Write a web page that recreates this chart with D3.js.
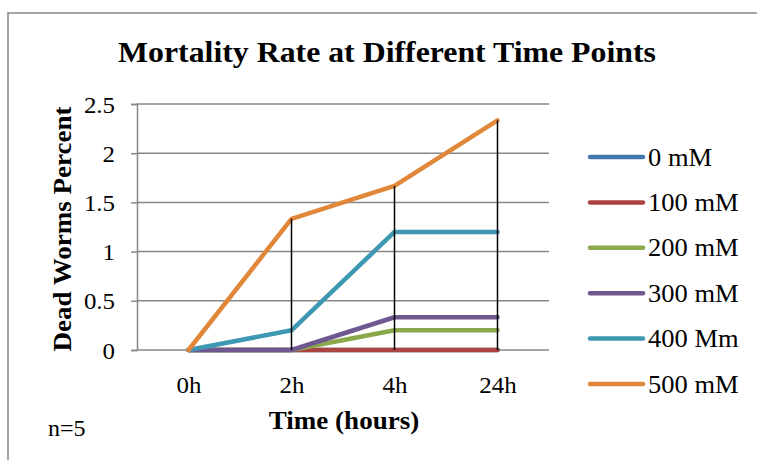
<!DOCTYPE html>
<html>
<head>
<meta charset="utf-8">
<script src="https://cdn.jsdelivr.net/npm/d3@7"></script>
<style>
  html, body { margin: 0; padding: 0; background: #fff; }
  svg { display: block; font-family: "Liberation Serif", "Times New Roman", serif; }
</style>
</head>
<body>
<svg id="chart" width="757" height="460"></svg>
<script>
// ---- data ----
const categories = ["0h", "2h", "4h", "24h"];
const seriesNames = ["0 mM", "100 mM", "200 mM", "300 mM", "400 Mm", "500 mM"];
const s0mM   = [0, 0, 0, 0];
const s100mM = [0, 0, 0, 0];
const s200mM = [0, 0, 0.2, 0.2];
const s300mM = [0, 0, 0.333, 0.333];
const s400mM = [0, 0.2, 1.2, 1.2];
const s500mM = [0, 1.333, 1.667, 2.333];
const seriesColors = ["#4577b0", "#aa4442", "#8aa84c", "#6f5790", "#3f98b2", "#e0873a"];
const yTicks = [0, 0.5, 1, 1.5, 2, 2.5];
const yTickLabels = ["0", "0.5", "1", "1.5", "2", "2.5"];

const seriesValues = [s0mM, s100mM, s200mM, s300mM, s400mM, s500mM];
const series = seriesNames.map((name, i) => ({ name, values: seriesValues[i], color: seriesColors[i] }));

const svg = d3.select("#chart");
const gridColor = "#878787";

// frame
svg.append("rect").attr("x", 8).attr("y", 13).attr("width", 760).attr("height", 470)
  .attr("fill", "none").attr("stroke", gridColor).attr("stroke-width", 1.5);

// scales
const x = d3.scalePoint().domain(categories).range([137, 549]).padding(0.5);
const y = d3.scaleLinear().domain([0, 2.5]).range([350, 104]);

// gridlines
svg.append("g").selectAll("line").data(yTicks).join("line")
  .attr("x1", 137).attr("x2", 549)
  .attr("y1", d => y(d)).attr("y2", d => y(d))
  .attr("stroke", gridColor).attr("stroke-width", 1.5);

// y axis
const yAxis = d3.axisLeft(y).tickValues(yTicks).tickSize(6).tickPadding(16)
  .tickFormat((d, i) => yTickLabels[i]);
const gy = svg.append("g").attr("transform", "translate(137,0)").call(yAxis);
gy.select(".domain").attr("stroke", gridColor).attr("stroke-width", 1.5);
gy.selectAll(".tick line").attr("stroke", gridColor).attr("stroke-width", 1.5);
gy.selectAll(".tick text").attr("font-family", "Liberation Serif").attr("font-size", 23.5)
  .attr("fill", "#000").attr("dy", "0.34em").classed("s", true);

// x axis labels
const xAxis = d3.axisBottom(x).tickSize(0).tickPadding(26);
const gx = svg.append("g").attr("transform", "translate(0,350)").call(xAxis);
gx.select(".domain").remove();
gx.selectAll(".tick text").attr("font-family", "Liberation Serif").attr("font-size", 23.5)
  .attr("fill", "#000").attr("dy", "0.71em").classed("s", true);

// lines
const line = d3.line().x((d, i) => x(categories[i])).y(d => y(d));
svg.append("g").selectAll("path").data(series).join("path")
  .attr("d", d => line(d.values))
  .attr("fill", "none").attr("stroke", d => d.color)
  .attr("stroke-width", 4.5).attr("stroke-linecap", "round").attr("stroke-linejoin", "round");

// high-low lines
const hl = categories.map((c, i) => {
  const vals = series.map(s => s.values[i]);
  return { c, hi: d3.max(vals), lo: d3.min(vals) };
}).filter(d => d.hi > d.lo);
svg.append("g").selectAll("line").data(hl).join("line")
  .attr("x1", d => x(d.c)).attr("x2", d => x(d.c))
  .attr("y1", d => y(d.hi)).attr("y2", d => y(d.lo))
  .attr("stroke", "#000").attr("stroke-width", 1.5);

// title
svg.append("text").attr("class", "s").attr("x", 387).attr("y", 62).attr("text-anchor", "middle")
  .attr("font-size", 30).attr("font-weight", "bold").text("Mortality Rate at Different Time Points");

// axis titles
svg.append("text").attr("class", "s").attr("x", 344).attr("y", 429).attr("text-anchor", "middle")
  .attr("font-size", 25.5).attr("font-weight", "bold").text("Time (hours)");
svg.append("text").attr("class", "s").attr("transform", "translate(71,229) rotate(-90)").attr("text-anchor", "middle")
  .attr("font-size", 25.5).attr("font-weight", "bold").text("Dead Worms Percent");

// n=5
svg.append("text").attr("x", 48).attr("y", 436).attr("font-size", 24).text("n=5");

// legend
const legendY = d3.scalePoint().domain(seriesNames).range([157, 384]);
const lg = svg.append("g").selectAll("g").data(series).join("g")
  .attr("transform", d => `translate(0,${legendY(d.name)})`);
lg.append("line").attr("x1", 590).attr("x2", 643).attr("y1", 0).attr("y2", 0)
  .attr("stroke", d => d.color).attr("stroke-width", 4.5).attr("stroke-linecap", "round");
lg.append("text").attr("class", "s").attr("x", 648).attr("y", 0).attr("dy", "0.34em")
  .attr("font-size", 25).text(d => d.name);

// slight horizontal stretch to match the reference's glyph proportions
svg.selectAll("text.s").each(function () {
  const w = this.getComputedTextLength();
  d3.select(this).attr("textLength", w * 1.06).attr("lengthAdjust", "spacingAndGlyphs");
});
</script>
</body>
</html>
